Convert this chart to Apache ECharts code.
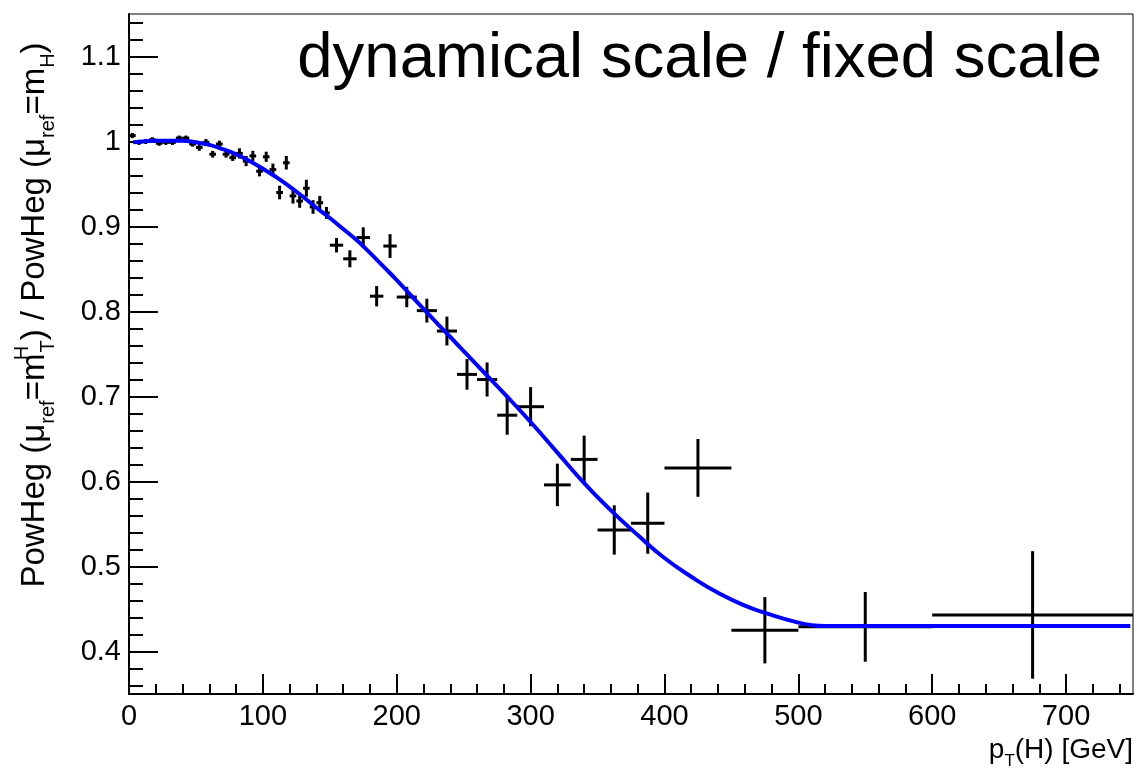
<!DOCTYPE html>
<html>
<head>
<meta charset="utf-8">
<script src="https://cdn.jsdelivr.net/npm/echarts@6/dist/echarts.min.js"></script>
<style>
html,body{margin:0;padding:0;background:#fff;}
#c{width:1137px;height:776px;}
</style>
</head>
<body>
<div id="c"></div>
<script>
// ---- data ----
const binLo = [0,5,10,15,20,25,30,35,40,45,50,55,60,65,70,75,80,85,90,95,100,105,110,115,120,125,130,135,140,145,
  150,160,170,180,190,200,215,230,245,260,275,290,310,330,350,375,400,450,500,600];
const binHi = [5,10,15,20,25,30,35,40,45,50,55,60,65,70,75,80,85,90,95,100,105,110,115,120,125,130,135,140,145,150,
  160,170,180,190,200,215,230,245,260,275,290,310,330,350,375,400,450,500,600,750];
const ratio = [1.007,0.999,1.000,1.002,0.998,0.999,0.999,1.004,1.004,0.997,
  0.993,0.999,0.985,0.997,0.985,0.981,0.986,0.977,0.983,0.965,
  0.982,0.967,0.940,0.975,0.936,0.930,0.945,0.923,0.928,0.916,
  0.878,0.862,0.887,0.818,0.877,0.817,0.801,0.777,0.726,0.720,
  0.678,0.688,0.596,0.626,0.543,0.551,0.616,0.425,0.429,0.443];
const ratioErr = [0.003,0.003,0.003,0.003,0.003,0.003,0.003,0.003,0.003,0.003,
  0.004,0.004,0.004,0.004,0.004,0.004,0.006,0.006,0.006,0.006,
  0.006,0.007,0.008,0.008,0.009,0.008,0.010,0.008,0.008,0.007,
  0.0085,0.010,0.012,0.012,0.014,0.012,0.014,0.017,0.018,0.020,
  0.023,0.023,0.025,0.028,0.029,0.036,0.034,0.039,0.041,0.075];

const fitX = [3,10,20,30,40,50,60,70,80,90,100,110,120,130,140,150,160,170,180,190,200,220,240,260,280,300,320,340,360,380,400,420,440,460,480,500,510,520,600,748];
const fitY = [0.999,1.000,1.001,1.001,1.001,0.999,0.996,0.991,0.985,0.977,0.968,0.958,0.947,0.935,0.922,0.910,0.897,0.884,0.869,0.853,0.837,0.803,0.770,0.737,0.704,0.670,0.634,0.598,0.566,0.537,0.510,0.488,0.469,0.454,0.443,0.434,0.431,0.430,0.430,0.430];

const xMajorTicks = [0,100,200,300,400,500,600,700];
const xMinorTicks = [20,40,60,80,120,140,160,180,220,240,260,280,320,340,360,380,420,440,460,480,520,540,560,580,620,640,660,680,720,740];
const yMajorTicks = [0.4,0.5,0.6,0.7,0.8,0.9,1.0,1.1];
const yMinorTicks = [0.36,0.38,0.42,0.44,0.46,0.48,0.52,0.54,0.56,0.58,0.62,0.64,0.66,0.68,0.72,0.74,0.76,0.78,
  0.82,0.84,0.86,0.88,0.92,0.94,0.96,0.98,1.02,1.04,1.06,1.08,1.12,1.14];

const titleText = 'dynamical scale / fixed scale';

// ---- chart ----
const FONT = "'Liberation Sans', Arial, Helvetica, sans-serif";
const errData = binLo.map((lo, i) => [lo, binHi[i], ratio[i], ratioErr[i]]);
const fitData = fitX.map((x, i) => [x, fitY[i]]);

const chart = echarts.init(document.getElementById('c'), null, {renderer: 'canvas'});

const axisCommon = {
  type: 'value', min: 0, max: 750, position: 'bottom', splitLine: {show: false}
};
const yCommon = {
  type: 'value', min: 0.35, max: 1.15, position: 'left', splitLine: {show: false}
};

chart.setOption({
  backgroundColor: '#fff',
  animation: false,
  grid: {left: 129, right: 4, top: 14, bottom: 82, show: true, borderColor: '#000', borderWidth: 1,
         containLabel: false, outerBoundsMode: 'none'},
  xAxis: [
    Object.assign({}, axisCommon, {
      axisLine: {show: true, lineStyle: {color: '#000', width: 2}},
      axisTick: {show: true, inside: true, length: 20, customValues: xMajorTicks, lineStyle: {color: '#000', width: 2}},
      axisLabel: {show: true, customValues: xMajorTicks, color: '#000', fontSize: 29, fontFamily: FONT, margin: 8}
    }),
    Object.assign({}, axisCommon, {
      axisLine: {show: false},
      axisTick: {show: true, inside: true, length: 10, customValues: xMinorTicks, lineStyle: {color: '#000', width: 2}},
      axisLabel: {show: false}
    })
  ],
  yAxis: [
    Object.assign({}, yCommon, {
      axisLine: {show: true, lineStyle: {color: '#000', width: 2}},
      axisTick: {show: true, inside: true, length: 29, customValues: yMajorTicks, lineStyle: {color: '#000', width: 2}},
      axisLabel: {show: true, customValues: yMajorTicks, color: '#000', fontSize: 29, fontFamily: FONT, margin: 8,
                  formatter: v => String(Math.round(v * 10) / 10)}
    }),
    Object.assign({}, yCommon, {
      axisLine: {show: false},
      axisTick: {show: true, inside: true, length: 14, customValues: yMinorTicks, lineStyle: {color: '#000', width: 2}},
      axisLabel: {show: false}
    })
  ],
  series: [
    {
      type: 'custom',
      xAxisIndex: 0, yAxisIndex: 0,
      data: errData,
      encode: {x: [0, 1], y: [2]},
      z: 2,
      renderItem: function (params, api) {
        const lo = api.value(0), hi = api.value(1), y = api.value(2), e = api.value(3);
        const xc = (lo + hi) / 2;
        const pL = api.coord([lo, y]), pR = api.coord([hi, y]);
        const pT = api.coord([xc, y + e]), pB = api.coord([xc, y - e]);
        const st = {stroke: '#000', lineWidth: 3};
        return {type: 'group', children: [
          {type: 'line', shape: {x1: pL[0], y1: pL[1], x2: pR[0], y2: pR[1]}, style: st},
          {type: 'line', shape: {x1: pT[0], y1: pT[1], x2: pB[0], y2: pB[1]}, style: st}
        ]};
      }
    },
    {
      type: 'line',
      xAxisIndex: 0, yAxisIndex: 0,
      data: fitData,
      smooth: true,
      showSymbol: false,
      symbol: 'none',
      z: 3,
      lineStyle: {color: '#0000ff', width: 4}
    }
  ],
  graphic: [
    {type: 'text', x: 1102, y: 59, z: 10,
     style: {text: titleText, fontSize: 63.5, fontFamily: FONT, fill: '#000', align: 'right', verticalAlign: 'middle'}},
    {type: 'text', x: 35, y: 315, rotation: Math.PI / 2, z: 10,
     style: {
       text: '{n|PowHeg (μ}{s|ref}{n|=m}{h|H}{s|T}{n|) / PowHeg (μ}{s|ref}{n|=m}{s|H}{n|)}',
       align: 'center', verticalAlign: 'middle', fill: '#000', fontFamily: FONT, fontSize: 33,
       rich: {
         n: {fontSize: 33, lineHeight: 46, verticalAlign: 'middle', fontFamily: FONT, fill: '#000'},
         s: {fontSize: 20, lineHeight: 25, verticalAlign: 'bottom', fontFamily: FONT, fill: '#000'},
         h: {fontSize: 20, lineHeight: 31, verticalAlign: 'top', width: 1, fontFamily: FONT, fill: '#000'}
       }
     }},
    {type: 'text', x: 1133, y: 750, z: 10,
     style: {
       text: '{n|p}{s|T}{n|(H) [GeV]}',
       align: 'right', verticalAlign: 'middle', fill: '#000', fontFamily: FONT, fontSize: 28,
       rich: {
         n: {fontSize: 28, lineHeight: 40, verticalAlign: 'middle', fontFamily: FONT, fill: '#000'},
         s: {fontSize: 17, lineHeight: 22, verticalAlign: 'bottom', fontFamily: FONT, fill: '#000'}
       }
     }}
  ]
});
</script>
</body>
</html>
